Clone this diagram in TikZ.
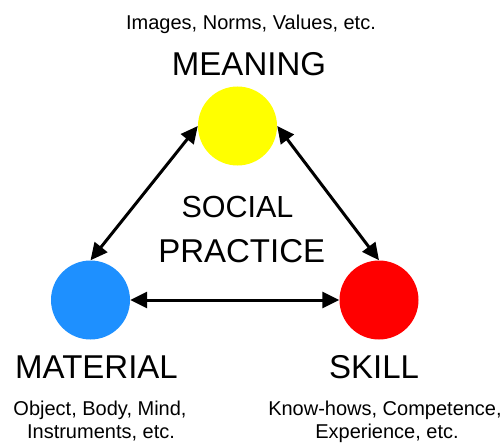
\documentclass[tikz,border=0pt]{standalone}
\usepackage{fontspec}
\setmainfont{Liberation Sans}
\usetikzlibrary{arrows.meta}

\definecolor{meaningyellow}{HTML}{FFFF00}
\definecolor{materialblue}{HTML}{1E90FF}
\definecolor{skillred}{HTML}{FF0000}

\tikzset{
  element/.style={circle, minimum size=79pt, inner sep=0pt, draw=none},
  biglabel/.style={anchor=base, inner sep=0pt, font=\fontsize{33}{38}\selectfont},
  smalllabel/.style={anchor=base, inner sep=0pt, font=\fontsize{20}{23}\selectfont},
  link/.style={line width=3pt, {Triangle[length=17pt,width=16pt]}-{Triangle[length=17pt,width=16pt]}}
}

\begin{document}
\begin{tikzpicture}[x=1pt, y=-1pt]
  \useasboundingbox (0,0) rectangle (504,444);

  % the three elements of a practice
  \node[element, fill=meaningyellow] (mean) at (237.5,126) {};
  \node[element, fill=materialblue] (mat) at (90.5,300) {};
  \node[element, fill=skillred] (skill) at (379,300) {};

  % links between the elements
  \draw[link] (mat.north) -- (mean.west);
  \draw[link] (skill.north) -- (mean.east);
  \draw[link] (mat.east) -- (skill.west);

  % headings
  \node[biglabel] (meaningtitle) at (249,76) {MEANING};
  \node[biglabel] (materialtitle) at (96.5,378) {MATERIAL};
  \node[biglabel] (skilltitle) at (374,378) {SKILL};

  % centre label
  \node[anchor=base, inner sep=0pt, font=\fontsize{30.5}{36}\selectfont] (social) at (237.5,217) {SOCIAL};
  \node[anchor=base, inner sep=0pt, font=\fontsize{33}{38}\selectfont] (practice) at (241.7,262) {PRACTICE};

  % examples for each element
  \node[smalllabel] (meaningex) at (251,30) {Images, Norms, Values, etc.};
  \node[smalllabel] (materialexa) at (100,415) {Object, Body, Mind,};
  \node[smalllabel] (materialexb) at (101,438) {Instruments, etc.};
  \node[smalllabel] (skillexa) at (385,415) {Know-hows, Competence,};
  \node[smalllabel] (skillexb) at (387,438) {Experience, etc.};
\end{tikzpicture}
\end{document}
